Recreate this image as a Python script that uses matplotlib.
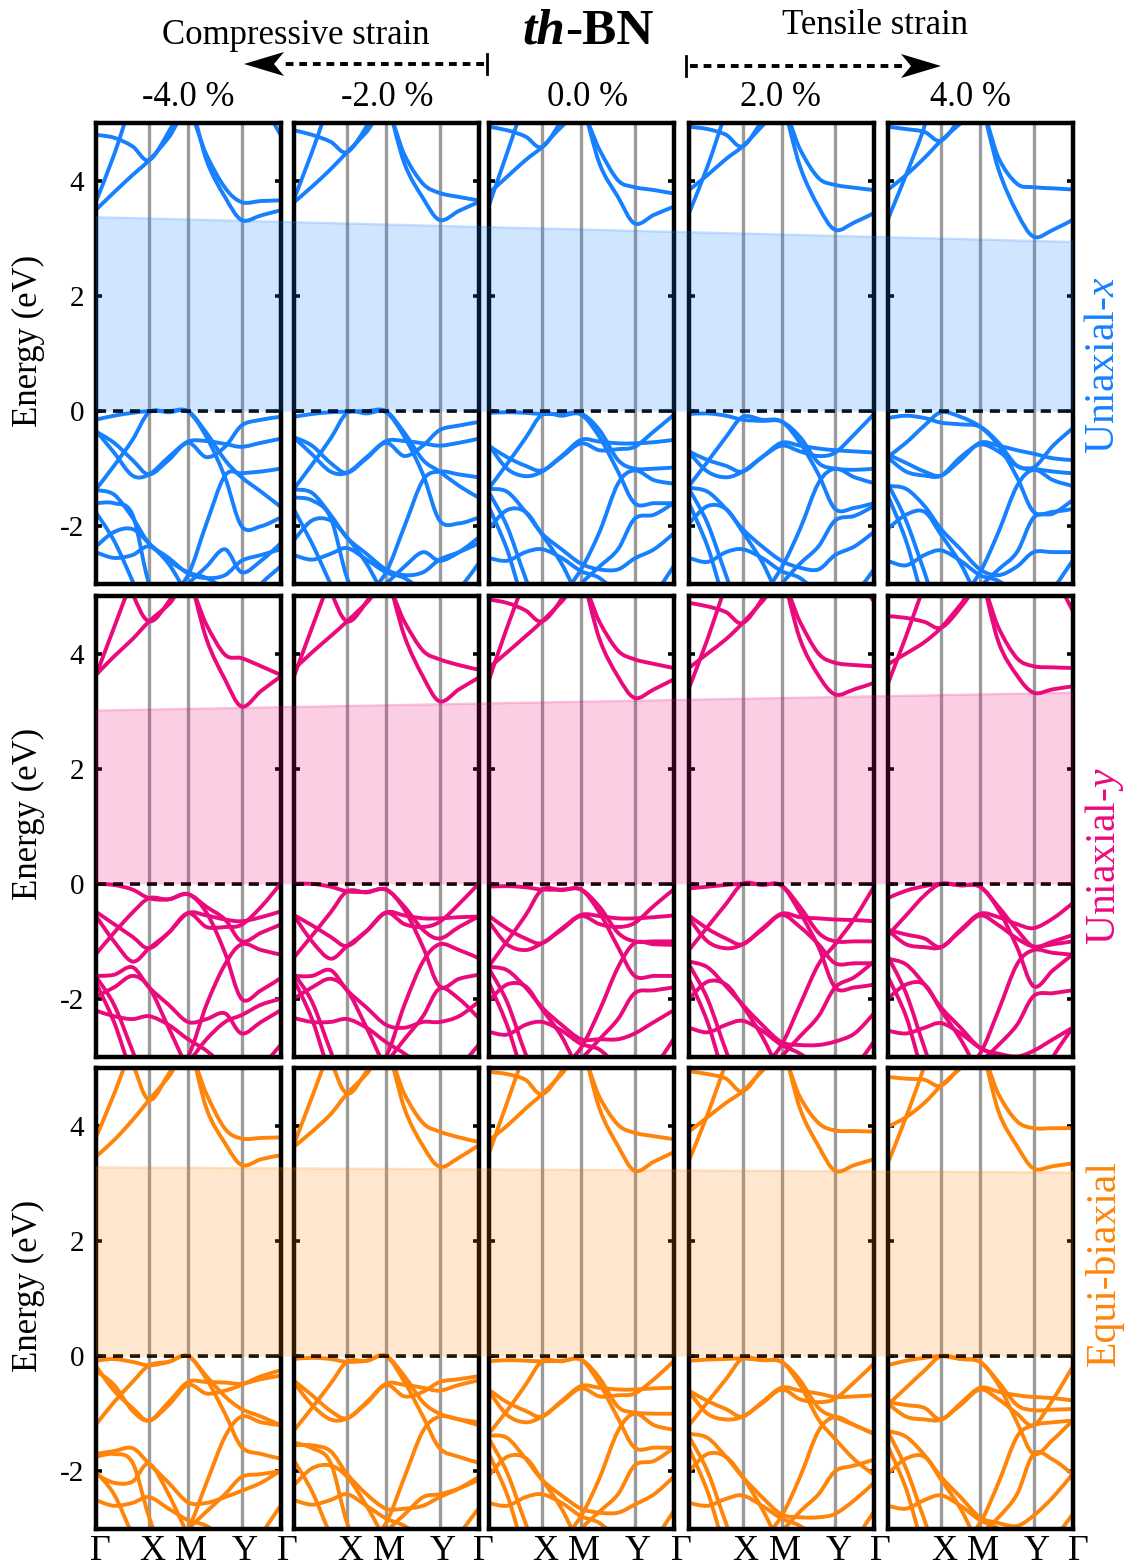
import numpy as np
import matplotlib
matplotlib.use("Agg")
import matplotlib.pyplot as plt
from matplotlib.path import Path
from matplotlib.patches import PathPatch, Polygon

plt.rcParams['font.family'] = ['Liberation Serif', 'DejaVu Serif']
plt.rcParams['mathtext.fontset'] = 'custom'
plt.rcParams['mathtext.rm'] = 'Liberation Serif'
plt.rcParams['mathtext.it'] = 'Liberation Serif:italic'

# ---------------------------------------------------------------- data
strains = ["-4.0 %", "-2.0 %", "0.0 %", "2.0 %", "4.0 %"]
modes = ["Uniaxial-$x$", "Uniaxial-$y$", "Equi-biaxial"]
kpath_labels = ["Γ", "X", "M", "Y", "Γ"]
ksym = [0.0, 0.29, 0.50, 0.79, 1.0]
# k samples along Γ-X-M-Y-Γ where band energies are tabulated
kgrid = [0.0, 0.10, 0.20, 0.29, 0.395, 0.50, 0.60, 0.70, 0.79, 0.895, 1.0]
yticks = [4, 2, 0, -2]

# conduction-band-minimum trend line (left end, right end) per strain mode, eV
gap_ux = [3.37, 2.94]
gap_uy = [3.01, 3.32]
gap_eb = [3.28, 3.19]

L = -3.6  # below window
H = 6.0   # above window

# ---- Uniaxial-x
bands_ux_m4 = [
    [3.62, 4.45, 5.40, H, H, 5.50, 4.36, 3.72, 3.32, 3.40, 3.49],
    [3.49, 3.80, 4.10, 4.36, 4.75, 5.20, 4.45, 3.88, 3.63, 3.65, 3.66],
    [4.80, 4.75, 4.60, 4.36, 4.85, 5.50, H, H, H, 5.40, 4.80],
    [-0.15, -0.08, -0.03, 0.00, 0.00, 0.00, -0.38, -0.85, -1.15, -1.40, -1.66],
    [-1.37, -0.95, -0.50, -0.02, -0.02, -0.01, -0.45, -1.15, -2.00, -2.00, -1.85],
    [-0.33, -0.72, -1.12, -1.10, -0.80, -0.53, -0.52, -0.57, -0.62, -0.55, -0.48],
    [-0.35, -0.55, -0.85, -1.10, -0.85, -0.55, -0.80, -0.62, -0.25, -0.15, -0.10],
    [-1.37, -1.45, -1.85, -2.30, -2.55, -2.82, -2.90, -2.85, -2.60, -2.50, -2.40],
    [-2.36, -2.10, -2.05, -2.30, -2.65, -3.20, L, L, L, L, L],
    [-1.60, -1.60, -1.80, -3.00, L, L, L, L, L, L, L],
    [-1.75, -2.25, -2.95, L, L, L, L, L, L, L, L],
    [L, L, L, -3.50, -3.20, -2.85, -1.95, -1.12, -1.08, -1.05, -1.00],
    [L, L, L, L, -3.30, -3.00, -2.70, -2.40, -2.80, -2.60, -2.30],
    [-2.45, -2.55, -2.50, -2.35, -2.60, -2.80, -2.90, -3.10, -3.40, -3.00, -2.70],
]
bands_ux_m2 = [
    [3.66, 4.50, 5.40, H, H, 5.40, 4.30, 3.70, 3.32, 3.48, 3.63],
    [3.62, 3.90, 4.20, 4.50, 4.85, 5.25, 4.45, 3.95, 3.79, 3.72, 3.66],
    [4.88, 4.80, 4.68, 4.50, 4.95, 5.60, H, H, H, H, H],
    [-0.10, -0.05, -0.02, -0.01, 0.00, 0.00, -0.38, -0.85, -1.05, -1.30, -1.50],
    [-1.36, -0.93, -0.48, -0.03, -0.04, -0.02, -0.45, -1.10, -1.90, -1.95, -1.85],
    [-0.45, -0.75, -1.05, -1.07, -0.80, -0.52, -0.52, -0.56, -0.60, -0.55, -0.48],
    [-0.45, -0.60, -0.90, -1.07, -0.82, -0.55, -0.78, -0.60, -0.33, -0.25, -0.19],
    [-1.36, -1.42, -1.80, -2.20, -2.48, -2.75, -2.85, -2.80, -2.58, -2.45, -2.30],
    [-2.25, -1.90, -1.90, -2.20, -2.65, -3.25, L, L, L, L, L],
    [-1.50, -1.55, -1.85, -2.90, L, L, L, L, L, L, L],
    [-1.70, -2.30, -3.00, L, L, L, L, L, L, L, L],
    [L, L, L, -3.50, -3.20, -2.80, -2.00, -1.20, -1.05, -1.10, -1.15],
    [L, L, L, L, -3.30, -3.00, -2.70, -2.45, -2.60, -2.45, -2.20],
    [-2.50, -2.58, -2.48, -2.38, -2.58, -2.80, -2.90, -3.15, -3.50, -3.10, -2.65],
]
bands_ux_0 = [
    [3.55, 4.48, 5.40, H, H, 5.40, 4.30, 3.72, 3.26, 3.41, 3.55],
    [3.78, 4.07, 4.36, 4.59, 4.94, 5.20, 4.54, 4.01, 3.89, 3.84, 3.78],
    [4.94, 4.88, 4.77, 4.59, 5.05, 5.60, H, H, H, H, H],
    [-0.03, -0.02, -0.03, -0.05, -0.05, -0.04, -0.33, -0.85, -1.00, -1.00, -0.98],
    [-1.35, -0.92, -0.47, -0.06, -0.08, -0.06, -0.45, -1.05, -1.60, -1.60, -1.60],
    [-0.60, -0.80, -0.95, -1.03, -0.78, -0.50, -0.53, -0.56, -0.56, -0.54, -0.50],
    [-0.58, -1.00, -1.13, -1.05, -0.80, -0.56, -0.68, -0.66, -0.62, -0.35, -0.07],
    [-1.35, -1.40, -1.75, -2.13, -2.40, -2.65, -2.75, -2.75, -2.56, -2.40, -2.13],
    [-2.05, -1.72, -1.75, -2.15, -2.65, -3.30, L, L, L, L, L],
    [-1.40, -2.00, -2.90, L, L, L, L, L, L, L, L],
    [-1.65, -2.40, -3.40, L, L, L, L, L, L, L, L],
    [L, L, L, -3.50, -3.20, -2.75, -2.10, -1.26, -1.03, -1.20, -1.26],
    [L, L, L, L, -3.40, -3.00, -2.70, -2.40, -1.87, -1.80, -1.60],
    [-2.55, -2.60, -2.45, -2.40, -2.55, -2.78, -2.90, -3.20, L, -3.20, -2.70],
]
bands_ux_p2 = [
    [3.44, 4.25, 5.20, H, H, 5.40, 4.25, 3.55, 3.15, 3.28, 3.44],
    [3.84, 4.10, 4.38, 4.60, 4.95, 5.30, 4.55, 4.05, 3.93, 3.88, 3.84],
    [4.94, 4.90, 4.80, 4.60, 5.05, 5.60, H, H, H, H, H],
    [-0.05, -0.04, -0.08, -0.15, -0.17, -0.18, -0.45, -0.90, -1.00, -1.02, -1.00],
    [-1.30, -0.88, -0.45, -0.10, -0.15, -0.18, -0.55, -1.10, -1.70, -1.68, -1.60],
    [-0.70, -0.85, -0.95, -1.05, -0.80, -0.55, -0.60, -0.65, -0.68, -0.70, -0.72],
    [-0.72, -1.05, -1.15, -1.05, -0.80, -0.60, -0.70, -0.78, -0.72, -0.40, -0.05],
    [-1.33, -1.40, -1.70, -2.05, -2.35, -2.60, -2.72, -2.75, -2.50, -2.35, -2.10],
    [-1.95, -1.65, -1.70, -2.10, -2.62, -3.30, L, L, L, L, L],
    [-1.35, -1.95, -2.85, L, L, L, L, L, L, L, L],
    [-1.60, -2.35, -3.35, L, L, L, L, L, L, L, L],
    [L, L, L, -3.50, -3.20, -2.72, -2.05, -1.25, -1.00, -1.15, -1.25],
    [L, L, L, L, -3.40, -3.00, -2.65, -2.35, -1.90, -1.82, -1.65],
    [-2.55, -2.62, -2.45, -2.40, -2.55, -2.78, -2.90, -3.20, L, -3.20, -2.75],
]
bands_ux_p4 = [
    [3.32, 4.10, 4.95, H, H, 5.40, 4.20, 3.45, 3.03, 3.15, 3.32],
    [3.84, 4.10, 4.40, 4.70, 5.00, 5.30, 4.40, 3.95, 3.89, 3.87, 3.85],
    [4.94, 4.90, 4.85, 4.70, 5.10, 5.60, H, H, H, H, H],
    [-0.12, -0.08, -0.12, -0.20, -0.23, -0.27, -0.55, -0.95, -1.00, -1.05, -1.08],
    [-0.80, -0.55, -0.25, -0.02, -0.10, -0.27, -0.60, -1.15, -1.75, -1.75, -1.70],
    [-0.75, -0.90, -1.05, -1.12, -0.85, -0.55, -0.60, -0.68, -0.74, -0.82, -0.85],
    [-0.80, -1.05, -1.12, -1.12, -0.80, -0.58, -0.70, -0.95, -0.98, -0.60, -0.30],
    [-1.30, -1.35, -1.65, -2.05, -2.40, -2.75, -2.85, -2.70, -2.45, -2.45, -2.45],
    [-2.05, -1.80, -1.75, -2.15, -2.65, -3.30, L, L, L, L, L],
    [-1.25, -1.90, -2.80, L, L, L, L, L, L, L, L],
    [-1.45, -2.25, -3.30, L, L, L, L, L, L, L, L],
    [L, L, L, -3.50, -3.25, -2.80, -2.10, -1.30, -1.02, -1.20, -1.30],
    [L, L, L, L, -3.40, -3.05, -2.75, -2.45, -1.85, -1.78, -1.55],
    [-2.60, -2.68, -2.50, -2.42, -2.60, -2.85, -2.95, -3.20, L, -3.10, -2.60],
]

# ---- Uniaxial-y
bands_uy_m4 = [
    [3.60, 4.45, 5.30, H, H, 5.40, 4.25, 3.55, 3.08, 3.35, 3.60],
    [3.62, 3.95, 4.25, 4.56, 4.85, 5.20, 4.50, 3.98, 3.92, 3.78, 3.63],
    [H, H, 5.05, 4.56, 4.90, 5.50, H, H, H, H, H],
    [0.00, -0.02, -0.10, -0.25, -0.27, -0.18, -0.40, -0.62, -1.00, -0.85, -0.71],
    [-1.23, -0.85, -0.50, -0.25, -0.27, -0.18, -0.50, -1.20, -2.00, -1.85, -1.64],
    [-0.48, -0.70, -0.92, -1.12, -0.85, -0.51, -0.55, -0.62, -0.65, -0.58, -0.48],
    [-0.55, -1.00, -1.35, -1.12, -0.85, -0.51, -0.75, -0.75, -0.71, -0.40, 0.00],
    [-1.60, -1.58, -1.45, -1.80, -2.10, -2.40, -2.35, -2.25, -2.60, -2.40, -2.20],
    [-1.96, -1.80, -1.60, -1.80, -2.50, -3.20, L, L, L, L, L],
    [-1.60, -2.10, -2.90, L, L, L, L, L, L, L, L],
    [-1.70, -2.40, -3.30, L, L, L, L, L, L, L, L],
    [L, L, L, -3.50, -3.30, -3.00, -2.10, -1.40, -1.05, -1.15, -1.23],
    [L, L, L, L, -3.40, -3.10, -2.70, -2.40, -2.28, -2.10, -2.00],
    [-2.20, -2.30, -2.35, -2.30, -2.45, -2.70, -2.90, -3.20, L, -3.20, -2.80],
]
bands_uy_m2 = [
    [3.58, 4.45, 5.30, H, H, 5.40, 4.30, 3.60, 3.17, 3.38, 3.58],
    [3.72, 4.02, 4.30, 4.56, 4.88, 5.20, 4.55, 4.05, 3.90, 3.80, 3.72],
    [H, H, 5.10, 4.56, 4.90, 5.50, H, H, H, H, H],
    [0.00, 0.00, -0.05, -0.13, -0.14, -0.10, -0.40, -0.80, -0.95, -0.75, -0.57],
    [-1.29, -0.90, -0.50, -0.13, -0.15, -0.10, -0.45, -1.10, -1.78, -1.65, -1.58],
    [-0.54, -0.72, -0.92, -1.08, -0.82, -0.50, -0.55, -0.60, -0.60, -0.58, -0.57],
    [-0.54, -1.00, -1.30, -1.08, -0.82, -0.50, -0.70, -0.75, -0.66, -0.35, 0.00],
    [-1.60, -1.60, -1.50, -1.85, -2.15, -2.45, -2.50, -2.40, -2.40, -2.30, -2.05],
    [-2.00, -1.80, -1.65, -1.85, -2.50, -3.20, L, L, L, L, L],
    [-1.55, -2.05, -2.90, L, L, L, L, L, L, L, L],
    [-1.65, -2.35, -3.30, L, L, L, L, L, L, L, L],
    [L, L, L, -3.50, -3.30, -3.00, -2.10, -1.35, -1.05, -1.15, -1.29],
    [L, L, L, L, -3.40, -3.10, -2.70, -2.30, -1.82, -2.00, -2.33],
    [-2.33, -2.40, -2.40, -2.35, -2.50, -2.75, -2.95, -3.20, L, -3.20, -2.80],
]
bands_uy_0 = [
    [3.52, 4.45, 5.30, H, H, 5.40, 4.25, 3.60, 3.23, 3.38, 3.55],
    [3.75, 4.02, 4.30, 4.56, 4.90, 5.25, 4.55, 4.05, 3.90, 3.82, 3.75],
    [4.94, 4.88, 4.75, 4.56, 4.95, 5.60, H, H, H, H, H],
    [-0.05, -0.04, -0.06, -0.10, -0.10, -0.10, -0.40, -0.85, -1.00, -1.00, -1.00],
    [-1.44, -1.00, -0.55, -0.10, -0.11, -0.10, -0.50, -1.10, -1.60, -1.60, -1.60],
    [-0.55, -0.78, -0.95, -1.03, -0.78, -0.54, -0.56, -0.60, -0.60, -0.58, -0.55],
    [-0.65, -1.05, -1.15, -1.03, -0.80, -0.56, -0.70, -0.75, -0.68, -0.38, -0.10],
    [-1.44, -1.50, -1.80, -2.15, -2.45, -2.70, -2.70, -2.70, -2.60, -2.40, -2.20],
    [-2.04, -1.75, -1.78, -2.18, -2.65, -3.30, L, L, L, L, L],
    [-1.46, -2.05, -2.95, L, L, L, L, L, L, L, L],
    [-1.70, -2.45, -3.40, L, L, L, L, L, L, L, L],
    [L, L, L, -3.50, -3.20, -2.85, -2.20, -1.45, -1.03, -1.05, -1.06],
    [L, L, L, L, -3.40, -3.05, -2.70, -2.35, -1.90, -1.85, -1.80],
    [-2.57, -2.62, -2.45, -2.40, -2.55, -2.78, -2.88, -3.20, L, -3.20, -2.70],
]
bands_uy_p2 = [
    [3.40, 4.25, 5.20, H, H, 5.40, 4.25, 3.62, 3.29, 3.38, 3.49],
    [3.75, 4.00, 4.25, 4.53, 4.90, 5.25, 4.55, 4.00, 3.84, 3.80, 3.78],
    [4.88, 4.82, 4.72, 4.53, 4.95, 5.60, H, H, H, 5.40, 4.90],
    [-0.08, -0.05, -0.02, 0.00, -0.01, -0.03, -0.40, -0.85, -1.00, -1.00, -1.00],
    [-1.15, -0.75, -0.35, 0.00, -0.02, -0.03, -0.50, -1.10, -1.80, -1.80, -1.75],
    [-0.55, -0.78, -0.95, -1.05, -0.78, -0.52, -0.58, -0.60, -0.62, -0.63, -0.65],
    [-0.60, -1.00, -1.12, -1.05, -0.80, -0.54, -0.75, -1.05, -1.38, -1.38, -1.38],
    [-1.35, -1.45, -1.78, -2.10, -2.45, -2.75, -2.80, -2.80, -2.74, -2.60, -2.25],
    [-2.00, -1.70, -1.75, -2.12, -2.65, -3.30, L, L, L, L, L],
    [-1.40, -2.00, -2.90, L, L, L, L, L, L, L, L],
    [-1.65, -2.40, -3.40, L, L, L, L, L, L, L, L],
    [L, L, L, -3.50, -3.20, -2.80, -2.10, -1.40, -1.05, -0.60, -0.05],
    [L, L, L, L, -3.40, -3.00, -2.65, -2.30, -1.80, -1.62, -1.35],
    [-2.50, -2.58, -2.45, -2.38, -2.55, -2.80, -2.95, -3.20, L, -3.20, -2.74],
]
bands_uy_p4 = [
    [3.46, 4.30, 5.20, H, H, 5.40, 4.20, 3.62, 3.32, 3.38, 3.43],
    [3.81, 4.00, 4.20, 4.45, 4.85, 5.25, 4.45, 3.92, 3.78, 3.76, 3.75],
    [4.65, 4.62, 4.55, 4.45, 4.80, 5.30, H, H, H, 5.40, 4.75],
    [-0.25, -0.12, -0.04, 0.00, -0.02, -0.05, -0.40, -0.80, -1.09, -1.00, -0.89],
    [-0.90, -0.55, -0.20, 0.00, -0.03, -0.05, -0.45, -1.10, -1.78, -1.50, -1.23],
    [-0.80, -0.88, -0.95, -1.10, -0.80, -0.52, -0.58, -0.70, -0.77, -0.60, -0.34],
    [-0.80, -1.05, -1.10, -1.10, -0.82, -0.55, -0.72, -0.95, -1.09, -1.05, -1.00],
    [-1.30, -1.40, -1.75, -2.15, -2.50, -2.85, -2.95, -3.00, -2.90, -2.70, -2.50],
    [-2.00, -1.75, -1.75, -2.20, -2.70, -3.30, L, L, L, L, L],
    [-1.25, -1.90, -2.85, L, L, L, L, L, L, L, L],
    [-1.60, -2.30, -3.35, L, L, L, L, L, L, L, L],
    [L, L, L, -3.50, -3.25, -2.95, -2.20, -1.40, -1.15, -1.20, -1.23],
    [L, L, L, L, -3.40, -3.10, -2.80, -2.45, -1.95, -1.90, -1.85],
    [-2.55, -2.60, -2.50, -2.42, -2.60, -2.85, -3.00, -3.20, L, -3.00, -2.50],
]

# ---- Equi-biaxial
bands_eb_m4 = [
    [3.78, 4.55, 5.40, H, H, 5.50, 4.30, 3.70, 3.32, 3.42, 3.49],
    [3.46, 3.75, 4.10, 4.45, 4.85, 5.30, 4.55, 3.95, 3.78, 3.79, 3.80],
    [H, H, 5.10, 4.45, 4.90, 5.40, H, H, H, H, H],
    [-0.08, -0.05, -0.10, -0.16, -0.10, 0.00, -0.35, -0.70, -0.92, -1.05, -1.20],
    [-1.20, -0.80, -0.45, -0.16, -0.10, 0.00, -0.40, -1.00, -1.58, -1.70, -1.78],
    [-0.16, -0.60, -0.90, -1.12, -0.80, -0.45, -0.45, -0.46, -0.48, -0.40, -0.34],
    [-0.25, -0.50, -0.95, -1.12, -0.85, -0.50, -0.65, -0.60, -0.50, -0.35, -0.25],
    [-1.70, -1.65, -1.60, -1.87, -2.20, -2.54, -2.55, -2.45, -2.34, -2.20, -1.99],
    [-2.05, -2.20, -2.18, -1.87, -2.40, -3.10, L, L, L, L, L],
    [-1.75, -1.70, -1.85, -2.80, L, L, L, L, L, L, L],
    [-2.00, -2.40, -3.10, L, L, L, L, L, L, L, L],
    [L, L, L, -3.50, -3.30, -3.00, -2.20, -1.40, -1.05, -1.15, -1.20],
    [L, L, L, L, -3.30, -3.00, -2.70, -2.40, -2.10, -2.05, -2.00],
    [-2.50, -2.60, -2.55, -2.45, -2.65, -2.85, -2.95, -3.20, L, -3.10, -2.60],
]
bands_eb_m2 = [
    [3.66, 4.50, 5.35, H, H, 5.45, 4.30, 3.65, 3.29, 3.45, 3.66],
    [3.63, 3.90, 4.20, 4.56, 4.90, 5.30, 4.55, 4.05, 3.90, 3.80, 3.72],
    [H, H, 5.15, 4.56, 4.95, 5.50, H, H, H, H, H],
    [-0.05, -0.03, -0.05, -0.10, -0.08, 0.00, -0.35, -0.80, -1.00, -1.10, -1.20],
    [-1.30, -0.90, -0.48, -0.10, -0.08, 0.00, -0.45, -1.05, -1.60, -1.75, -1.85],
    [-0.42, -0.68, -0.95, -1.08, -0.80, -0.48, -0.50, -0.55, -0.60, -0.50, -0.42],
    [-0.45, -0.85, -1.10, -1.08, -0.82, -0.50, -0.70, -0.62, -0.45, -0.40, -0.35],
    [-1.55, -1.55, -1.65, -2.05, -2.40, -2.65, -2.65, -2.60, -2.45, -2.30, -2.10],
    [-2.25, -1.95, -1.90, -2.10, -2.60, -3.20, L, L, L, L, L],
    [-1.50, -1.60, -1.85, -2.90, L, L, L, L, L, L, L],
    [-1.80, -2.35, -3.10, L, L, L, L, L, L, L, L],
    [L, L, L, -3.50, -3.25, -2.90, -2.10, -1.30, -1.05, -1.10, -1.15],
    [L, L, L, L, -3.40, -3.05, -2.75, -2.45, -2.40, -2.30, -2.15],
    [-2.50, -2.58, -2.50, -2.40, -2.60, -2.82, -2.95, -3.20, L, -3.10, -2.65],
]
bands_eb_0 = [
    [3.50, 4.40, 5.30, H, H, 5.45, 4.30, 3.65, 3.22, 3.38, 3.54],
    [3.74, 4.00, 4.30, 4.55, 4.90, 5.25, 4.50, 4.02, 3.88, 3.82, 3.77],
    [4.94, 4.90, 4.80, 4.55, 4.95, 5.60, H, H, H, H, H],
    [-0.09, -0.07, -0.08, -0.09, -0.08, -0.06, -0.38, -0.88, -0.98, -1.00, -1.00],
    [-1.35, -0.95, -0.50, -0.09, -0.09, -0.06, -0.48, -1.08, -1.59, -1.59, -1.59],
    [-0.58, -0.80, -0.95, -1.05, -0.78, -0.52, -0.55, -0.58, -0.58, -0.56, -0.55],
    [-0.60, -1.02, -1.15, -1.05, -0.80, -0.56, -0.70, -0.68, -0.65, -0.40, -0.09],
    [-1.38, -1.42, -1.78, -2.15, -2.42, -2.65, -2.72, -2.72, -2.58, -2.40, -2.10],
    [-2.08, -1.75, -1.77, -2.15, -2.65, -3.30, L, L, L, L, L],
    [-1.42, -2.02, -2.90, L, L, L, L, L, L, L, L],
    [-1.68, -2.40, -3.40, L, L, L, L, L, L, L, L],
    [L, L, L, -3.50, -3.20, -2.78, -2.12, -1.30, -1.00, -1.20, -1.28],
    [L, L, L, L, -3.40, -3.00, -2.70, -2.40, -1.90, -1.82, -1.60],
    [-2.55, -2.60, -2.45, -2.40, -2.55, -2.78, -2.90, -3.20, L, -3.20, -2.70],
]
bands_eb_p2 = [
    [3.40, 4.20, 5.10, H, H, 5.45, 4.30, 3.65, 3.22, 3.32, 3.42],
    [3.90, 4.15, 4.40, 4.60, 4.95, 5.25, 4.50, 4.05, 3.92, 3.91, 3.90],
    [4.95, 4.90, 4.82, 4.60, 5.00, 5.60, H, H, H, 5.50, 5.00],
    [-0.08, -0.06, -0.05, -0.04, -0.07, -0.10, -0.42, -0.90, -1.06, -1.20, -1.35],
    [-1.20, -0.80, -0.40, -0.04, -0.07, -0.10, -0.50, -1.10, -1.44, -1.80, -2.06],
    [-0.60, -0.78, -0.92, -1.05, -0.80, -0.55, -0.60, -0.65, -0.71, -0.70, -0.68],
    [-0.62, -1.00, -1.10, -1.05, -0.82, -0.58, -0.75, -0.80, -0.74, -0.45, -0.13],
    [-1.35, -1.42, -1.75, -2.10, -2.45, -2.75, -2.80, -2.80, -2.74, -2.50, -2.20],
    [-2.00, -1.70, -1.75, -2.10, -2.65, -3.30, L, L, L, L, L],
    [-1.40, -2.00, -2.90, L, L, L, L, L, L, L, L],
    [-1.60, -2.35, -3.35, L, L, L, L, L, L, L, L],
    [L, L, L, -3.50, -3.20, -2.78, -2.10, -1.30, -1.06, -1.20, -1.35],
    [L, L, L, L, -3.40, -3.05, -2.70, -2.40, -2.00, -1.90, -1.80],
    [-2.55, -2.60, -2.48, -2.42, -2.60, -2.82, -2.95, -3.20, L, -3.20, -2.70],
]
bands_eb_p4 = [
    [3.34, 4.15, 5.05, H, H, 5.45, 4.25, 3.65, 3.26, 3.30, 3.35],
    [3.98, 4.15, 4.40, 4.70, 5.00, 5.30, 4.55, 4.08, 3.96, 3.96, 3.96],
    [4.85, 4.82, 4.80, 4.70, 5.05, 5.60, H, H, H, 5.40, 4.95],
    [-0.16, -0.08, -0.03, 0.00, -0.05, -0.10, -0.45, -0.85, -0.94, -0.93, -0.92],
    [-0.85, -0.55, -0.25, 0.00, -0.05, -0.10, -0.50, -1.15, -1.70, -1.45, -1.12],
    [-0.80, -0.85, -0.90, -1.10, -0.82, -0.55, -0.62, -0.68, -0.71, -0.73, -0.77],
    [-0.82, -1.05, -1.10, -1.10, -0.85, -0.58, -0.75, -1.00, -1.20, -0.75, -0.19],
    [-1.30, -1.40, -1.72, -2.10, -2.45, -2.80, -2.90, -2.95, -2.77, -2.45, -2.05],
    [-2.05, -1.78, -1.75, -2.15, -2.65, -3.30, L, L, L, L, L],
    [-1.30, -1.95, -2.85, L, L, L, L, L, L, L, L],
    [-1.55, -2.30, -3.35, L, L, L, L, L, L, L, L],
    [L, L, L, -3.50, -3.25, -2.90, -2.20, -1.40, -1.20, -1.15, -1.12],
    [L, L, L, L, -3.40, -3.10, -2.80, -2.40, -1.70, -1.80, -2.05],
    [-2.60, -2.65, -2.50, -2.42, -2.60, -2.85, -3.00, -3.30, L, -3.20, -2.75],
]

rows = [
    ([bands_ux_m4, bands_ux_m2, bands_ux_0, bands_ux_p2, bands_ux_p4], gap_ux),
    ([bands_uy_m4, bands_uy_m2, bands_uy_0, bands_uy_p2, bands_uy_p4], gap_uy),
    ([bands_eb_m4, bands_eb_m2, bands_eb_0, bands_eb_p2, bands_eb_p4], gap_eb),
]
row_colors = ["#1680ff", "#eb0a7c", "#ff840a"]

# ---------------------------------------------------------------- layout (pixels)
W, Hpx = 1129, 1566
panel_left = [95.5, 293.5, 488.5, 689.0, 887.5]
panel_w = 185.0
row_top = [123.3, 596.0, 1068.3]
panel_h = 460.5


def fig_rect(x0, y0, w, h):
    return [x0 / W, 1 - (y0 + h) / Hpx, w / W, h / Hpx]


def smooth_path(xs, ys):
    pts = np.column_stack([xs, ys]).astype(float)
    n = len(pts)
    verts = [pts[0]]
    codes = [Path.MOVETO]
    for i in range(n - 1):
        p0 = pts[i - 1] if i > 0 else pts[i]
        p1, p2 = pts[i], pts[i + 1]
        p3 = pts[i + 2] if i + 2 < n else pts[i + 1]
        verts += [p1 + (p2 - p0) / 6.0, p2 - (p3 - p1) / 6.0, p2]
        codes += [Path.CURVE4] * 3
    return Path(verts, codes)


fig = plt.figure(figsize=(W / 100, Hpx / 100), dpi=100)

for r, (panels, gap) in enumerate(rows):
    color = row_colors[r]
    for c, bands in enumerate(panels):
        ax = fig.add_axes(fig_rect(panel_left[c], row_top[r], panel_w, panel_h))
        ax.set_xlim(0, 1)
        ax.set_ylim(-3, 5)
        for k in ksym[1:-1]:
            ax.axvline(k, color="#8a8a8a", lw=2.4, alpha=0.85, zorder=1)
        ax.axhline(0, color="black", lw=2.6, ls=(0, (2.8, 1.9)), zorder=3)
        for band in bands:
            ax.add_patch(PathPatch(smooth_path(kgrid, band), fill=False,
                                   edgecolor=color, lw=2.8, zorder=2,
                                   capstyle="round", joinstyle="round"))
        for s in ax.spines.values():
            s.set_linewidth(3.2)
            s.set_joinstyle("round")
        ax.set_xticks([])
        ax.set_yticks(yticks)
        ax.tick_params(axis="y", which="both", direction="in", length=4.5,
                       width=2.6, left=True, right=True, labelsize=21, pad=8)
        if c == 0:
            ax.set_yticklabels([str(t) for t in yticks])
        else:
            ax.set_yticklabels([])
    # translucent band-gap region spanning the row
    x0 = panel_left[0]
    x1 = panel_left[-1] + panel_w
    ov = fig.add_axes(fig_rect(x0, row_top[r], x1 - x0, panel_h), zorder=10)
    ov.set_xlim(0, 1)
    ov.set_ylim(-3, 5)
    ov.axis("off")
    ov.patch.set_alpha(0)
    ov.fill_between([0, 1], [0, 0], gap, color=color, alpha=0.2, lw=0)
    ov.plot([0, 1], gap, color=color, alpha=0.25, lw=1.6)

    fig.text(28 / W, 1 - (row_top[r] + 218) / Hpx, "Energy (eV)", rotation=90,
             fontsize=25, ha="center", va="center")

# mode labels on the right
mode_y = [365, 856, 1263]
for r, name in enumerate(modes):
    fig.text(1104 / W, 1 - mode_y[r] / Hpx, name, rotation=90, fontsize=30,
             color=row_colors[r], ha="center", va="center")

# strain labels
strain_x = [188, 387, 588, 781, 970]
for x, s in zip(strain_x, strains):
    fig.text(x / W, 1 - 97 / Hpx, s, fontsize=25, ha="center", va="center")

# k-path labels under the last row
ylab = 1 - 1551 / Hpx
for c in range(5):
    L0 = panel_left[c]
    for lab, k in zip(kpath_labels[1:4], ksym[1:4]):
        fig.text((L0 + k * panel_w + 3) / W, ylab, lab, fontsize=26,
                 ha="center", va="center")
fig.text((panel_left[0] + 5) / W, ylab, "Γ", fontsize=26, ha="center", va="center")
for c in range(4):
    xm = (panel_left[c] + panel_w + panel_left[c + 1]) / 2
    fig.text(xm / W, ylab, "Γ", fontsize=26, ha="center", va="center")
fig.text((panel_left[-1] + panel_w + 6) / W, ylab, "Γ", fontsize=26,
         ha="center", va="center")

# title and strain-direction arrows
fig.text(565 / W, 1 - 32 / Hpx, "th", fontsize=37, fontweight="bold",
         fontstyle="italic", ha="right", va="center")
fig.text(565 / W, 1 - 32 / Hpx, "-BN", fontsize=37, fontweight="bold",
         ha="left", va="center")
fig.text(296 / W, 1 - 35 / Hpx, "Compressive strain", fontsize=25,
         ha="center", va="center")
fig.text(875 / W, 1 - 25 / Hpx, "Tensile strain", fontsize=25,
         ha="center", va="center")

deco = fig.add_axes([0, 0, 1, 1], zorder=-5)
deco.set_xlim(0, W)
deco.set_ylim(Hpx, 0)
deco.axis("off")
deco.patch.set_alpha(0)
dash = (0, (2.0, 1.5))
deco.plot([484, 282], [64, 64], color="black", lw=2.8, ls=dash)
deco.plot([487, 487], [54, 74], color="black", lw=2.0)
deco.add_patch(Polygon([[244, 64], [284, 52], [274, 64], [284, 76]],
                       closed=True, color="black", lw=0))
deco.plot([690, 906], [66, 66], color="black", lw=2.8, ls=dash)
deco.plot([686, 686], [56, 76], color="black", lw=2.0)
deco.add_patch(Polygon([[941, 66], [901, 54], [911, 66], [901, 78]],
                       closed=True, color="black", lw=0))

fig.savefig("out.png", dpi=100)
